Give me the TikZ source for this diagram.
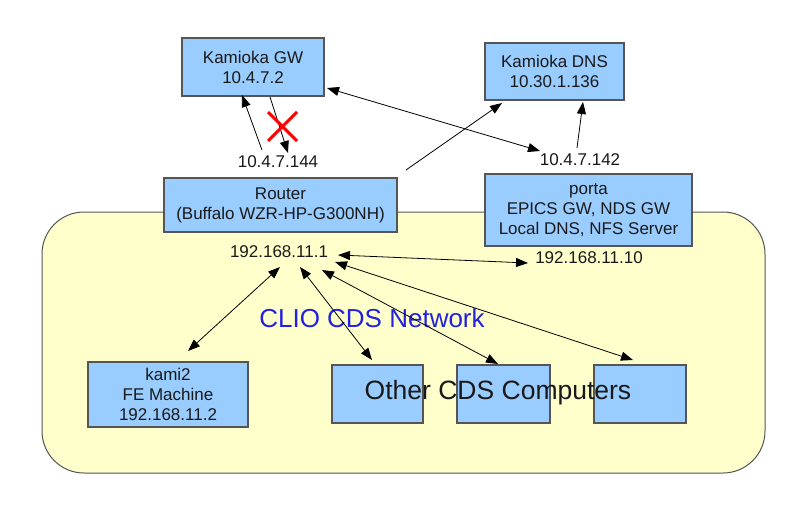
\documentclass[tikz,border=0pt]{standalone}
\usepackage{fontspec}
\setmainfont{Liberation Sans}
\usetikzlibrary{arrows.meta}
\definecolor{boxblue}{HTML}{99CCFF}
\definecolor{boxline}{HTML}{555555}
\definecolor{netyellow}{HTML}{FFFFCC}
\definecolor{netblue}{HTML}{2222DD}
\tikzset{
  box/.style={draw=boxline, line width=1.1pt, fill=boxblue, inner sep=0pt, align=center,
    font=\fontsize{17}{20}\selectfont, text=black!90},
  lbl/.style={inner sep=1pt, font=\fontsize{17}{20}\selectfont, text=black!90},
  conn/.style={line width=0.8pt, -{Triangle[length=12pt,width=9pt]}},
  dconn/.style={line width=0.8pt, {Triangle[length=12pt,width=9pt]}-{Triangle[length=12pt,width=9pt]}},
}
\begin{document}
\begin{tikzpicture}[x=1pt,y=-1pt]
\useasboundingbox (0,0) rectangle (800,514);
\fill[white] (0,0) rectangle (800,514);
% network area
\draw[draw=boxline, line width=1pt, fill=netyellow, rounded corners=42pt] (42,212) rectangle (765,473);
% boxes
\node[box, minimum width=142pt, minimum height=58pt] (gw) at (253,67) {Kamioka GW\\10.4.7.2};
\node[box, minimum width=139pt, minimum height=57pt] (dns) at (554.5,71.5) {Kamioka DNS\\10.30.1.136};
\node[box, minimum width=233pt, minimum height=54pt] (router) at (280.5,205) {Router\\(Buffalo WZR-HP-G300NH)};
\node[box, minimum width=207pt, minimum height=72pt] (porta) at (588.5,210) {porta\\EPICS GW, NDS GW\\Local DNS, NFS Server};
\node[box, minimum width=160pt, minimum height=65pt] (kami) at (168,394.5) {kami2\\FE Machine\\192.168.11.2};
\node[box, minimum width=91pt, minimum height=58pt] (oc1) at (377.5,394) {};
\node[box, minimum width=93pt, minimum height=58pt] (oc2) at (503.5,394) {};
\node[box, minimum width=92pt, minimum height=58pt] (oc3) at (640,394) {};
\node[inner sep=0pt, font=\fontsize{26.5}{30}\selectfont, text=black!90] (octext) at (498,393) {Other CDS Computers};
\node[inner sep=0pt, font=\fontsize{26}{30}\selectfont, text=netblue] (net) at (372,318) {CLIO CDS Network};
% labels
\node[lbl] (l144) at (278,162) {10.4.7.144};
\node[lbl] (l142) at (580,160) {10.4.7.142};
\node[lbl] (l1) at (279,252) {192.168.11.1};
\node[lbl] (l10) at (589,258) {192.168.11.10};
% endpoints
\coordinate (a1s) at (262,150); \coordinate (a1e) at (242,95);
\coordinate (a2s) at (270,97);  \coordinate (a2e) at (288,153);
\coordinate (a3s) at (406,170); \coordinate (a3e) at (502,103);
\coordinate (a4s) at (327,88);  \coordinate (a4e) at (540,151);
\coordinate (a5s) at (577,148); \coordinate (a5e) at (583,102);
\coordinate (k1) at (280,267);  \coordinate (k2) at (188,351);
\coordinate (b1) at (300,267);  \coordinate (b2) at (372,360);
\coordinate (c1) at (322,270);  \coordinate (c2) at (498,364);
\coordinate (d1) at (335,262);  \coordinate (d2) at (633,360);
\coordinate (e1) at (338,255);  \coordinate (e2) at (528,263);
% connectors
\draw[conn] (a1s) -- (a1e);
\draw[conn] (a2s) -- (a2e);
\draw[conn] (a3s) -- (a3e);
\draw[dconn] (a4s) -- (a4e);
\draw[conn] (a5s) -- (a5e);
\draw[dconn] (k1) -- (k2);
\draw[dconn] (b1) -- (b2);
\draw[dconn] (c1) -- (c2);
\draw[dconn] (d1) -- (d2);
\draw[dconn] (e1) -- (e2);
% red cross
\coordinate (x1) at (268,112); \coordinate (x2) at (297,141);
\coordinate (x3) at (297,112); \coordinate (x4) at (268,141);
\draw[red, line width=3pt] (x1) -- (x2) (x3) -- (x4);
\end{tikzpicture}
\end{document}
